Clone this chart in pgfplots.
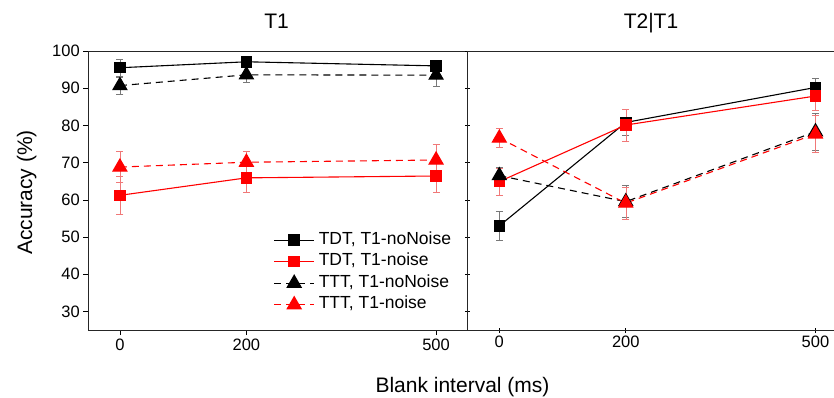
\documentclass[border=0pt]{standalone}
\usepackage{fontspec}
\setmainfont{Liberation Sans}
\usepackage{pgfplots}
\pgfplotsset{compat=1.18}
\definecolor{ebred}{RGB}{240,120,120}
\definecolor{ebgray}{RGB}{120,120,120}
\pgfplotsset{
  common/.style={
    scale only axis, width=379.4pt, height=279pt, anchor=south west,
    xmin=-50, xmax=550, ymin=25, ymax=100,
    xtick={0,200,500}, ytick={30,40,...,100},
    /pgf/number format/assume math mode=true,
    tick label style={font=\fontsize{16.5}{19}\selectfont},
    major tick length=5pt, tick style={black, line width=0.6pt},
    axis line style={line width=0.8pt, black!85},
    xtick pos=bottom, tick align=outside,
    clip=false,
  },
  ser/.style={line width=1.1pt, mark options={solid}},
  ebk/.style={error bars/.cd, y dir=both, y explicit,
    error bar style={line width=0.5pt, ebgray, solid},
    error mark options={rotate=90, mark size=3.5pt, line width=0.5pt, ebgray, solid}},
  ebr/.style={error bars/.cd, y dir=both, y explicit,
    error bar style={line width=0.5pt, ebred, solid},
    error mark options={rotate=90, mark size=3.5pt, line width=0.5pt, ebred, solid}},
  sqk/.style={ser, black, solid, mark=square*, mark size=5.2pt},
  sqr/.style={ser, red, solid, mark=square*, mark size=5.2pt},
  trk/.style={ser, black, dash pattern=on 7pt off 5pt, mark=triangle*, mark size=8pt},
  trr/.style={ser, red, dash pattern=on 7pt off 5pt, mark=triangle*, mark size=8pt},
}
\begin{document}
\begin{tikzpicture}
\useasboundingbox (0pt,0pt) rectangle (834pt,397pt);
% Left panel: T1
\begin{axis}[common, at={(88.3pt,67pt)}, ytick pos=left,
  legend style={draw=none, fill=none, at={(0.488,0.361)}, anchor=north west,
    font=\fontsize{17.5}{20}\selectfont, inner sep=0pt,
    nodes={inner ysep=3pt, inner xsep=4pt, text height=12pt, text depth=3.5pt},
    cells={anchor=west}, row sep=0pt},
  legend image code/.code={\draw[mark repeat=2,mark phase=2,#1] plot coordinates {(0pt,0pt) (20pt,0pt) (40pt,0pt)};},
]
\addplot+[sqk, ebk] coordinates {(0,95.5) +- (0,2.2) (200,97.1) +- (0,1.0) (500,96.0) +- (0,1.5)};
\addlegendentry{TDT, T1-noNoise}
\addplot+[sqr, ebr] coordinates {(0,61.2) +- (0,5.0) (200,65.9) +- (0,4.0) (500,66.4) +- (0,4.4)};
\addlegendentry{TDT, T1-noise}
\addplot+[trk, ebk] coordinates {(0,90.7) +- (0,2.2) (200,93.6) +- (0,2.0) (500,93.5) +- (0,2.9)};
\addlegendentry{TTT, T1-noNoise}
\addplot+[trr, ebr] coordinates {(0,68.8) +- (0,4.2) (200,70.1) +- (0,2.9) (500,70.7) +- (0,4.1)};
\addlegendentry{TTT, T1-noise}
\end{axis}
% Right panel: T2|T1
\begin{axis}[common, at={(467.7pt,67pt)}, ytick pos=left, tick align=center, yticklabels={}]
\addplot+[sqk, ebk] coordinates {(0,53.0) +- (0,4.0) (200,80.8) +- (0,3.5) (500,90.2) +- (0,2.6)};
\addplot+[sqr, ebr] coordinates {(0,64.9) +- (0,3.7) (200,80.1) +- (0,4.3) (500,87.9) +- (0,3.7)};
\addplot+[trk, ebk] coordinates {(0,66.5) +- (0,2.2) (200,59.5) +- (0,4.3) (500,78.3) +- (0,5.0)};
\addplot+[trr, ebr] coordinates {(0,76.6) +- (0,2.6) (200,59.1) +- (0,4.3) (500,77.7) +- (0,4.9)};
\end{axis}
\node[anchor=base, font=\fontsize{21}{24}\selectfont] at (276.5pt,368pt) {T1};
\node[anchor=base, font=\fontsize{21}{24}\selectfont] at (651pt,368pt) {T2|T1};
\node[anchor=base, font=\fontsize{21}{24}\selectfont] at (462.5pt,5pt) {Blank interval (ms)};
\node[anchor=base, rotate=90, font=\fontsize{21}{24}\selectfont] at (32pt,204.5pt) {Accuracy (\%)};
\end{tikzpicture}
\end{document}
